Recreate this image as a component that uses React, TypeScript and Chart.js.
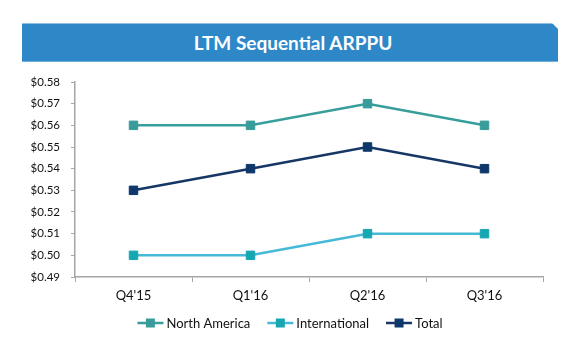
import React, { useEffect, useRef } from "react";
import { Chart, registerables } from "chart.js";

Chart.register(...registerables);

const categories = ["Q4'15", "Q1'16", "Q2'16", "Q3'16"];
const northAmerica = [0.56, 0.56, 0.57, 0.56];
const international = [0.5, 0.5, 0.51, 0.51];
const total = [0.53, 0.54, 0.55, 0.54];
const yMin = 0.49;
const yMax = 0.58;
const yStep = 0.01;
const titleText = "LTM Sequential ARPPU";

const FONT = "Lato, 'Open Sans', sans-serif";

const seriesStyles = [
  { label: "North America", data: northAmerica, line: "#379E9B", point: "#3A9C9A" },
  { label: "International", data: international, line: "#45B9D6", point: "#17A7B1" },
  { label: "Total", data: total, line: "#163666", point: "#0E376B" },
];

const legendPlugin = {
  id: "customLegend",
  afterDraw(chart: any) {
    const ctx = chart.ctx as CanvasRenderingContext2D;
    const cy = 323;
    const markerW = 26;
    const gapText = 3;
    const gapItem = 17;
    ctx.save();
    ctx.font = `13px ${FONT}`;
    ctx.textBaseline = "middle";
    const items = chart.data.datasets.map((ds: any) => ({
      label: ds.label,
      line: ds.borderColor,
      point: ds.pointBackgroundColor,
      w: ctx.measureText(ds.label).width,
    }));
    let totalW = 0;
    items.forEach((it: any, i: number) => {
      totalW += markerW + gapText + it.w + (i < items.length - 1 ? gapItem : 0);
    });
    let x = chart.width / 2 - totalW / 2;
    items.forEach((it: any) => {
      ctx.strokeStyle = it.line;
      ctx.lineWidth = 2.5;
      ctx.beginPath();
      ctx.moveTo(x, cy);
      ctx.lineTo(x + markerW, cy);
      ctx.stroke();
      ctx.fillStyle = it.point;
      ctx.fillRect(x + markerW / 2 - 4.5, cy - 4.5, 9, 9);
      ctx.fillStyle = "#111";
      ctx.fillText(it.label, x + markerW + gapText, cy + 0.5);
      x += markerW + gapText + it.w + gapItem;
    });
    ctx.restore();
  },
};

export default function App() {
  const canvasRef = useRef<HTMLCanvasElement | null>(null);

  useEffect(() => {
    if (!canvasRef.current) return;
    const chart = new Chart(canvasRef.current, {
      type: "line",
      data: {
        labels: categories,
        datasets: seriesStyles.map((s) => ({
          label: s.label,
          data: s.data,
          borderColor: s.line,
          backgroundColor: s.line,
          borderWidth: 2.5,
          pointStyle: "rect",
          pointRadius: 6,
          pointHoverRadius: 6,
          pointBackgroundColor: s.point,
          pointBorderColor: s.point,
          pointBorderWidth: 1,
          tension: 0,
          fill: false,
        })),
      },
      options: {
        animation: false,
        responsive: false,
        maintainAspectRatio: false,
        layout: { padding: { top: 82, right: 37, left: 0, bottom: 0 } },
        plugins: {
          legend: { display: false },
          title: { display: false },
          tooltip: { enabled: false },
        },
        scales: {
          x: {
            type: "category",
            offset: true,
            grid: {
              display: true,
              drawOnChartArea: false,
              drawTicks: true,
              tickLength: 5,
              offset: true,
              color: "#A6A6A6",
            },
            border: { display: true, color: "#A6A6A6", width: 1.5 },
            ticks: {
              color: "#111",
              font: { family: FONT, size: 13 },
              padding: 6,
              maxRotation: 0,
            },
            afterFit: (scale: any) => {
              scale.height = 72;
            },
          },
          y: {
            min: yMin,
            max: yMax,
            grid: {
              display: true,
              drawOnChartArea: false,
              drawTicks: true,
              tickLength: 4,
              color: "#A6A6A6",
            },
            border: { display: true, color: "#A6A6A6", width: 1.5 },
            ticks: {
              stepSize: yStep,
              color: "#111",
              font: { family: FONT, size: 11.5 },
              padding: 11,
              callback: (v: any) => "$" + Number(v).toFixed(2),
            },
            afterFit: (scale: any) => {
              scale.width = 75;
            },
          },
        },
      },
      plugins: [legendPlugin],
    });
    return () => chart.destroy();
  }, []);

  return (
    <div style={{ position: "absolute", left: 0, top: 0, width: 580, height: 349, background: "#fff" }}>
      <canvas ref={canvasRef} width={580} height={349} style={{ position: "absolute", left: 0, top: 0 }} />
      <div
        style={{
          position: "absolute",
          left: 22,
          top: 23,
          width: 536,
          height: 39,
          background: "#2E87C7",
          borderTop: "1px solid #8CC0E6",
          borderBottom: "1px solid #6EAEDD",
          boxSizing: "border-box",
          clipPath: "polygon(0 0, calc(100% - 6px) 0, 100% 6px, 100% 100%, 0 100%)",
          color: "#fff",
          fontFamily: FONT,
          fontWeight: 700,
          fontSize: 19,
          display: "flex",
          alignItems: "center",
          justifyContent: "center",
          paddingLeft: 6,
        }}
      >
        {titleText}
      </div>
    </div>
  );
}
